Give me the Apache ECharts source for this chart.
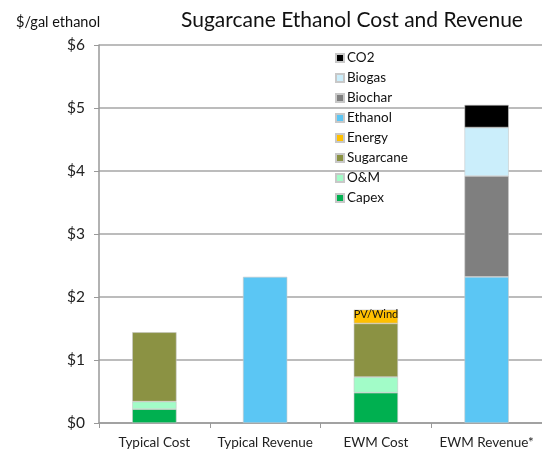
<!DOCTYPE html>
<html>
<head>
<meta charset="utf-8">
<script src="https://cdn.jsdelivr.net/npm/echarts@6/dist/echarts.min.js"></script>
<style>
  html, body { margin: 0; padding: 0; background: #fff; }
  #chart { width: 542px; height: 452px; }
</style>
</head>
<body>
<div id="chart"></div>
<script>
const categories = ['Typical Cost', 'Typical Revenue', 'EWM Cost', 'EWM Revenue*']
const yTicks = ['$0', '$1', '$2', '$3', '$4', '$5', '$6']

// stacked from bottom to top
const capex = [0.22, 0, 0.48, 0]
const om = [0.12, 0, 0.25, 0]
const sugarcane = [1.10, 0, 0.85, 0]
const energy = [0, 0, 0.22, 0]
const ethanol = [0, 2.32, 0, 2.32]
const biochar = [0, 0, 0, 1.60]
const biogas = [0, 0, 0, 0.77]
const co2 = [0, 0, 0, 0.36]

const seriesDefs = [
  { name: 'Capex', data: capex, color: '#00b050' },
  { name: 'O&M', data: om, color: '#a2fcc8' },
  { name: 'Sugarcane', data: sugarcane, color: '#8b9243' },
  { name: 'Energy', data: energy, color: '#ffc000' },
  { name: 'Ethanol', data: ethanol, color: '#5bc6f4' },
  { name: 'Biochar', data: biochar, color: '#7f7f7f' },
  { name: 'Biogas', data: biogas, color: '#cbeefb' },
  { name: 'CO2', data: co2, color: '#000000' }
]

const font = 'Lato, "Open Sans", sans-serif'
const chart = echarts.init(document.getElementById('chart'))

chart.setOption({
  animation: false,
  textStyle: { fontFamily: font },
  title: [
    {
      text: 'Sugarcane Ethanol Cost and Revenue',
      left: 347, top: 5, textAlign: 'center',
      textStyle: { fontSize: 21, fontWeight: 'normal', color: '#111', fontFamily: font }
    },
    {
      text: '$/gal ethanol',
      left: 11, top: 10,
      textStyle: { fontSize: 14.5, fontWeight: 'normal', color: '#111', fontFamily: font }
    }
  ],
  legend: {
    orient: 'vertical',
    left: 330, top: 46,
    itemWidth: 8, itemHeight: 8, itemGap: 6,
    icon: 'rect',
    data: ['CO2', 'Biogas', 'Biochar', 'Ethanol', 'Energy', 'Sugarcane', 'O&M', 'Capex'],
    textStyle: { fontSize: 13.5, color: '#111', fontFamily: font, padding: [0, 0, 0, -2] }
  },
  grid: { left: 99, top: 45, width: 452, height: 378 },
  xAxis: {
    type: 'category',
    data: categories,
    axisLine: { lineStyle: { color: '#999', width: 1.5 } },
    axisTick: { show: true, length: 5, lineStyle: { color: '#999' } },
    axisLabel: { interval: 0, hideOverlap: false, fontSize: 13.5, color: '#222', margin: 13, fontFamily: font }
  },
  yAxis: {
    type: 'value',
    min: 0, max: 6, interval: 1,
    axisLine: { show: true, lineStyle: { color: '#999', width: 1.5 } },
    axisTick: { show: true, length: 5, lineStyle: { color: '#999' } },
    axisLabel: {
      fontSize: 15.5, color: '#222', margin: 14, fontFamily: font,
      formatter: v => yTicks[v]
    },
    splitLine: { lineStyle: { color: '#a6a6a6', width: 1.5 } }
  },
  series: seriesDefs.map(s => ({
    name: s.name,
    type: 'bar',
    stack: 'total',
    barWidth: '40%',
    data: s.data.map(v => (v === 0 ? '-' : v)),
    itemStyle: { color: s.color, borderColor: '#c8c8c8', borderWidth: 0.6 },
    label: s.name === 'Energy' ? {
      show: true,
      position: 'insideTopLeft',
      distance: 2,
      offset: [-2, -3],
      formatter: 'PV/Wind',
      fontSize: 11, color: '#111', fontFamily: font
    } : { show: false }
  }))
})
</script>
</body>
</html>
